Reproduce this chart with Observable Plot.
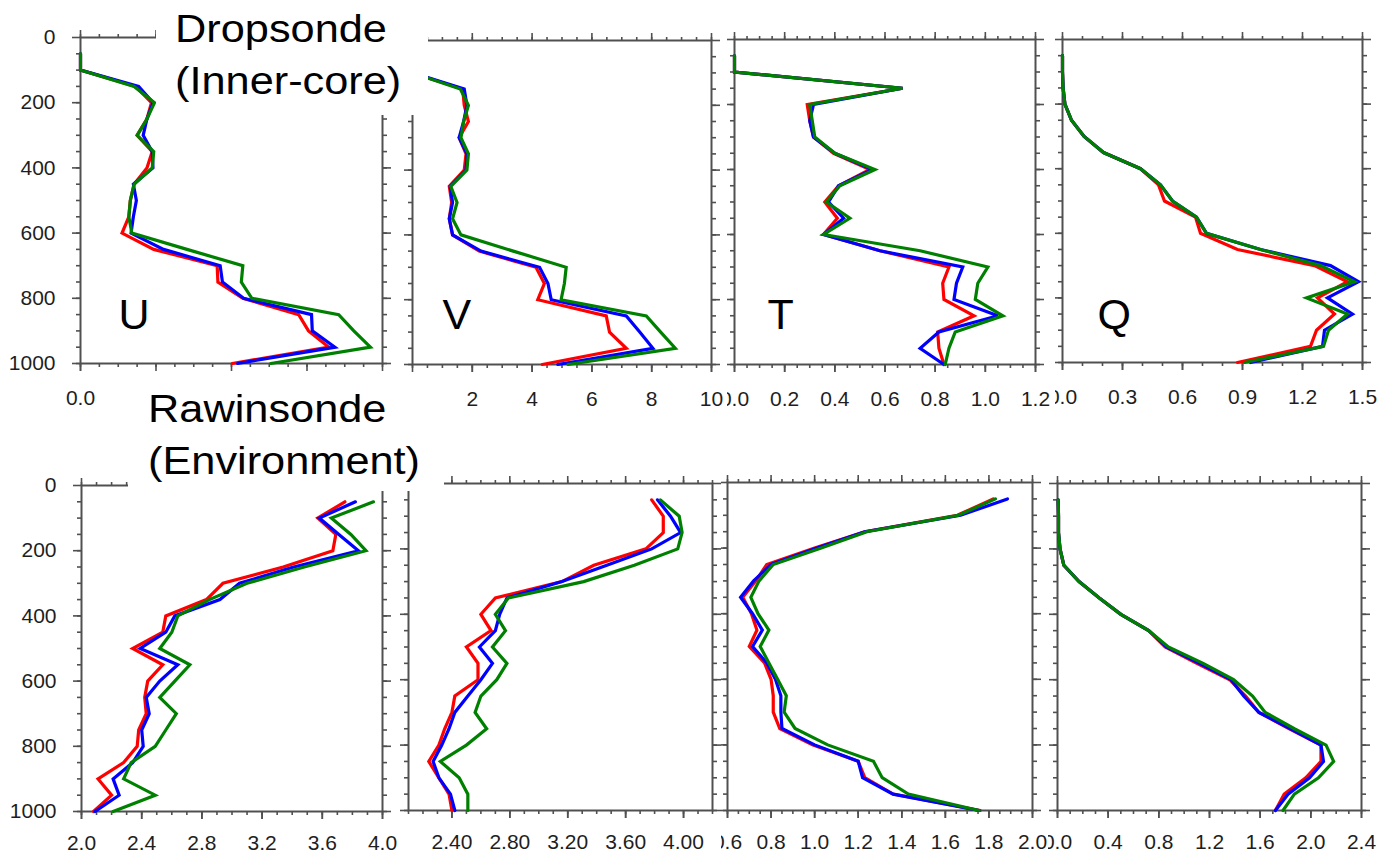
<!DOCTYPE html>
<html>
<head>
<meta charset="utf-8">
<script src="https://cdn.jsdelivr.net/npm/d3@7"></script>
<script src="https://cdn.jsdelivr.net/npm/@observablehq/plot@0.6"></script>
<style>
  html, body { margin: 0; padding: 0; background: #fff; }
  #page { position: relative; width: 1379px; height: 856px; overflow: hidden; background: #fff;
          font-family: "Liberation Sans", Arial, Helvetica, sans-serif; }
  .panel { position: absolute; }
  .panel svg { display: block; }
  .tbox { position: absolute; background: #fff; color: #000; box-sizing: border-box; }
  .tbox div { font-size: 38px; line-height: 52px; white-space: nowrap;
              transform: scaleX(1.14); transform-origin: left center; }
</style>
</head>
<body>
<div id="page"></div>
<script>
// ---------------- data ----------------
const levels = [50,100,150,200,250,300,350,400,450,500,550,600,650,700,750,800,850,900,950,1000];
const seriesNames = ["red", "blue", "green"];
const seriesColors = ["#f41a1a", "#0b0bac", "#36c02e"];
const panelLetters = ["U", "V", "T", "Q"];
const rowTitles = [["Dropsonde", "(Inner-core)"], ["Rawinsonde", "(Environment)"]];
const pressureTicks = [0, 200, 400, 600, 800, 1000];

// Dropsonde (inner-core)
const dropU_red   = [0,0,0.73,0.94,0.88,0.75,0.95,0.88,0.71,0.66,0.64,0.55,0.97,1.81,1.82,2.15,2.89,3.02,3.29,2.01];
const dropU_blue  = [0,0,0.77,0.96,0.88,0.83,0.95,0.96,0.70,0.74,0.70,0.67,1.10,1.85,1.88,2.16,3.06,3.07,3.37,2.08];
const dropU_green = [0,0,0.71,0.98,0.88,0.75,0.97,0.95,0.71,0.66,0.64,0.68,1.41,2.15,2.13,2.27,3.42,3.62,3.84,2.52];

const dropV_red   = [0,0,1.68,1.73,1.87,1.56,1.79,1.73,1.23,1.31,1.23,1.34,2.23,4.13,4.41,4.19,6.48,6.59,7.15,4.34];
const dropV_blue  = [0,0,1.73,1.82,1.71,1.56,1.82,1.79,1.26,1.34,1.23,1.34,2.29,4.25,4.53,4.64,7.15,7.60,8.04,4.86];
const dropV_green = [0,0,1.60,1.87,1.71,1.62,1.87,1.82,1.28,1.49,1.34,1.62,3.37,5.14,5.08,4.97,7.82,8.30,8.79,5.20];

const dropT_red   = [0,0,0.67,0.29,0.30,0.315,0.395,0.54,0.415,0.36,0.41,0.355,0.58,0.855,0.83,0.835,0.955,0.81,0.815,0.835];
const dropT_blue  = [0,0,0.67,0.315,0.30,0.315,0.40,0.55,0.415,0.375,0.435,0.355,0.58,0.91,0.885,0.875,1.05,0.815,0.74,0.835];
const dropT_green = [0,0,0.67,0.30,0.31,0.32,0.40,0.56,0.42,0.366,0.46,0.355,0.74,1.01,0.97,0.96,1.07,0.88,0.855,0.84];

const dropQ_red   = [0,0,0.003,0.012,0.045,0.108,0.205,0.39,0.48,0.51,0.665,0.69,0.875,1.26,1.425,1.275,1.36,1.27,1.24,0.875];
const dropQ_blue  = [0,0,0.003,0.012,0.045,0.108,0.205,0.39,0.49,0.55,0.67,0.72,0.99,1.34,1.48,1.325,1.45,1.31,1.30,0.94];
const dropQ_green = [0,0,0.003,0.012,0.045,0.108,0.205,0.39,0.49,0.55,0.67,0.72,0.99,1.29,1.46,1.22,1.425,1.33,1.305,0.91];

// Rawinsonde (environment)
const rawU_red   = [3.75,3.57,3.69,3.67,3.34,2.94,2.83,2.56,2.54,2.34,2.54,2.44,2.42,2.43,2.38,2.37,2.28,2.11,2.20,2.08];
const rawU_blue  = [3.82,3.58,3.71,3.84,3.41,3.05,2.92,2.62,2.56,2.39,2.64,2.52,2.43,2.45,2.40,2.41,2.34,2.21,2.25,2.09];
const rawU_green = [3.94,3.66,3.79,3.89,3.48,3.10,2.85,2.64,2.60,2.52,2.72,2.62,2.52,2.63,2.56,2.49,2.33,2.28,2.49,2.21];

const rawV_red   = [3.78,3.86,3.86,3.74,3.38,3.16,2.70,2.60,2.67,2.50,2.58,2.58,2.42,2.40,2.35,2.31,2.24,2.31,2.38,2.40];
const rawV_blue  = [3.82,3.91,3.98,3.78,3.47,3.16,2.78,2.73,2.70,2.59,2.68,2.60,2.51,2.42,2.38,2.33,2.27,2.31,2.39,2.42];
const rawV_green = [3.84,3.97,3.99,3.96,3.66,3.31,2.79,2.70,2.77,2.68,2.78,2.71,2.60,2.56,2.64,2.50,2.32,2.45,2.51,2.51];

const rawT_red   = [1.82,1.655,1.23,1.00,0.78,0.73,0.67,0.71,0.735,0.70,0.77,0.80,0.81,0.81,0.84,0.99,1.20,1.23,1.36,1.76];
const rawT_blue  = [1.885,1.67,1.23,1.01,0.80,0.72,0.66,0.715,0.76,0.715,0.78,0.82,0.845,0.845,0.85,1.00,1.20,1.22,1.36,1.755];
const rawT_green = [1.83,1.66,1.24,1.03,0.81,0.745,0.707,0.74,0.79,0.75,0.79,0.83,0.87,0.86,0.91,1.06,1.27,1.31,1.43,1.755];

const rawQ_red   = [0.005,0.008,0.008,0.02,0.05,0.17,0.33,0.50,0.72,0.85,1.10,1.36,1.485,1.59,1.83,2.08,2.08,1.96,1.79,1.72];
const rawQ_blue  = [0.005,0.008,0.008,0.02,0.05,0.17,0.33,0.50,0.72,0.86,1.12,1.37,1.47,1.59,1.84,2.08,2.10,1.99,1.82,1.72];
const rawQ_green = [0.005,0.008,0.008,0.02,0.05,0.17,0.33,0.50,0.72,0.875,1.15,1.39,1.54,1.64,1.87,2.12,2.18,2.06,1.87,1.78];

// x tick positions (major) and the tick labels that are visible
const dropU_ticks = [0, 1, 2, 3, 4];
const dropU_labels = [0];
const dropV_ticks = [0, 2, 4, 6, 8, 10];
const dropV_labels = [2, 4, 6, 8, 10];
const dropT_ticks = [0, 0.2, 0.4, 0.6, 0.8, 1.0, 1.2];
const dropQ_ticks = [0, 0.3, 0.6, 0.9, 1.2, 1.5];
const rawU_ticks  = [2.0, 2.4, 2.8, 3.2, 3.6, 4.0];
const rawV_ticks  = [2.4, 2.8, 3.2, 3.6, 4.0];
const rawT_ticks  = [0.6, 0.8, 1.0, 1.2, 1.4, 1.6, 1.8, 2.0];
const rawQ_ticks  = [0, 0.4, 0.8, 1.2, 1.6, 2.0, 2.4];

// ---------------- layout (positions / styles only) ----------------
const steps = (a, b, s) => d3.range(Math.round((b - a) / s) + 1).map(i => +(a + i * s).toFixed(4));
const panels = [
  {vals: [dropU_red, dropU_blue, dropU_green], domain: [0, 4],   ticks: dropU_ticks, labels: dropU_labels, minor: steps(0, 4, 0.25),  fmt: ".1f", letter: 0,
   L: 80, R: 382, T: 37, B: 363, ml: 80, mr: 18, pad: 19, yLabels: true, lx: 118, lb: 328},
  {vals: [dropV_red, dropV_blue, dropV_green], domain: [0, 10],  ticks: dropV_ticks, labels: dropV_labels, minor: steps(0, 10, 0.5),  fmt: "d",   letter: 1,
   L: 412, R: 711, T: 40, B: 364, ml: 12, mr: 16, pad: 19, lx: 442, lb: 328},
  {vals: [dropT_red, dropT_blue, dropT_green], domain: [0, 1.2], ticks: dropT_ticks, minor: steps(0, 1.2, 0.05), fmt: ".1f", letter: 2,
   L: 734, R: 1035, T: 39, B: 364, ml: 7, mr: 20, pad: 19, lx: 767, lb: 328},
  {vals: [dropQ_red, dropQ_blue, dropQ_green], domain: [0, 1.5], ticks: dropQ_ticks, minor: steps(0, 1.5, 0.1),  fmt: ".1f", letter: 3,
   L: 1062, R: 1362, T: 39, B: 362, ml: 7, mr: 17, pad: 19, lx: 1097, lb: 328},
  {vals: [rawU_red, rawU_blue, rawU_green], domain: [2, 4],      ticks: rawU_ticks,  minor: steps(2, 4, 0.1),    fmt: ".1f",
   L: 81, R: 382, T: 485, B: 811, ml: 81, mr: 18, pad: 16, yLabels: true},
  {vals: [rawV_red, rawV_blue, rawV_green], domain: [2.1, 4.2],  ticks: rawV_ticks,  minor: steps(2.1, 4.2, 0.1), fmt: ".2f",
   L: 408, R: 712, T: 483, B: 810, ml: 8, mr: 9, pad: 16},
  {vals: [rawT_red, rawT_blue, rawT_green], domain: [0.6, 2.0],  ticks: rawT_ticks,  minor: steps(0.6, 2.0, 0.05), fmt: ".1f",
   L: 727, R: 1032, T: 482, B: 810, ml: 6, mr: 16, pad: 16},
  {vals: [rawQ_red, rawQ_blue, rawQ_green], domain: [0, 2.4],    ticks: rawQ_ticks,  minor: steps(0, 2.4, 0.1),  fmt: ".1f",
   L: 1057, R: 1361, T: 483, B: 810, ml: 9, mr: 18, pad: 16}
];

const axisColor = "#505050";
const labelColor = "#1e1e1e";
const page = document.getElementById("page");

panels.forEach(p => {
  const rows = [];
  seriesNames.forEach((s, k) => p.vals[k].forEach((v, i) => rows.push({series: s, p: levels[i], v})));
  const mt = 12, mb = p.B > 700 ? 856 - p.B : 45;
  const fw = p.R - p.L, fh = p.B - p.T;
  const fmt = d3.format(p.fmt);
  const shown = p.labels || p.ticks;
  const blank = () => "";
  const common = {stroke: axisColor, strokeWidth: 1.6, label: null};
  const marks = [
    Plot.frame({stroke: axisColor, strokeWidth: 2}),
    Plot.axisX({...common, anchor: "bottom", ticks: p.minor, tickSize: 4, tickFormat: blank}),
    Plot.axisX({...common, anchor: "top", ticks: p.minor, tickSize: 4, tickFormat: blank}),
    Plot.axisX({...common, anchor: "top", ticks: p.ticks, tickSize: 8, tickFormat: blank}),
    Plot.axisX({...common, anchor: "bottom", ticks: p.ticks, tickSize: 8, tickFormat: blank}),
    Plot.axisX({...common, anchor: "bottom", ticks: shown, tickSize: 8, tickPadding: p.pad,
                tickFormat: fmt, fill: labelColor}),
    Plot.axisY({...common, anchor: "left", ticks: levels, tickSize: 4, tickFormat: blank}),
    Plot.axisY({...common, anchor: "right", ticks: levels, tickSize: 4, tickFormat: blank}),
    Plot.axisY({...common, anchor: "right", ticks: pressureTicks, tickSize: 8, tickFormat: blank}),
    p.yLabels
      ? Plot.axisY({...common, anchor: "left", ticks: pressureTicks, tickSize: 8, tickPadding: 17,
                    tickFormat: d => String(d), fill: labelColor})
      : Plot.axisY({...common, anchor: "left", ticks: pressureTicks, tickSize: 8, tickFormat: blank}),
    Plot.line(rows, {x: "v", y: "p", z: "series", stroke: "series", strokeWidth: 3.2,
                     strokeLinejoin: "miter", strokeMiterlimit: 3})
  ];
  if (p.letter !== undefined) {
    marks.push(Plot.text([panelLetters[p.letter]], {
      frameAnchor: "bottom-left", text: d => d, dx: p.lx - p.L, dy: p.lb - p.B,
      textAnchor: "start", lineAnchor: "bottom", fontSize: 43, fill: "#000"
    }));
  }
  const svg = Plot.plot({
    width: p.ml + fw + p.mr,
    height: mt + fh + mb,
    marginLeft: p.ml, marginRight: p.mr, marginTop: mt, marginBottom: mb,
    x: {domain: p.domain, label: null},
    y: {domain: [0, 1000], reverse: true, label: null},
    color: {domain: seriesNames, range: seriesColors},
    style: {background: "#fff", fontFamily: "Liberation Sans, Arial, Helvetica, sans-serif",
            fontSize: "21px", overflow: "hidden"},
    marks
  });
  const wrap = document.createElement("div");
  wrap.className = "panel";
  wrap.style.left = (p.L - p.ml) + "px";
  wrap.style.top = (p.T - mt) + "px";
  wrap.appendChild(svg);
  page.appendChild(wrap);
});

// title boxes
const boxes = [
  {left: 156, top: 0, width: 272, height: 115, padL: 19, padT: 3},
  {left: 128, top: 380, width: 316, height: 111, padL: 20, padT: 3}
];
boxes.forEach((b, i) => {
  const el = document.createElement("div");
  el.className = "tbox";
  Object.assign(el.style, {left: b.left + "px", top: b.top + "px", width: b.width + "px",
    height: b.height + "px", paddingLeft: b.padL + "px", paddingTop: b.padT + "px"});
  rowTitles[i].forEach(t => {
    const line = document.createElement("div");
    line.textContent = t;
    el.appendChild(line);
  });
  page.appendChild(el);
});
</script>
</body>
</html>
